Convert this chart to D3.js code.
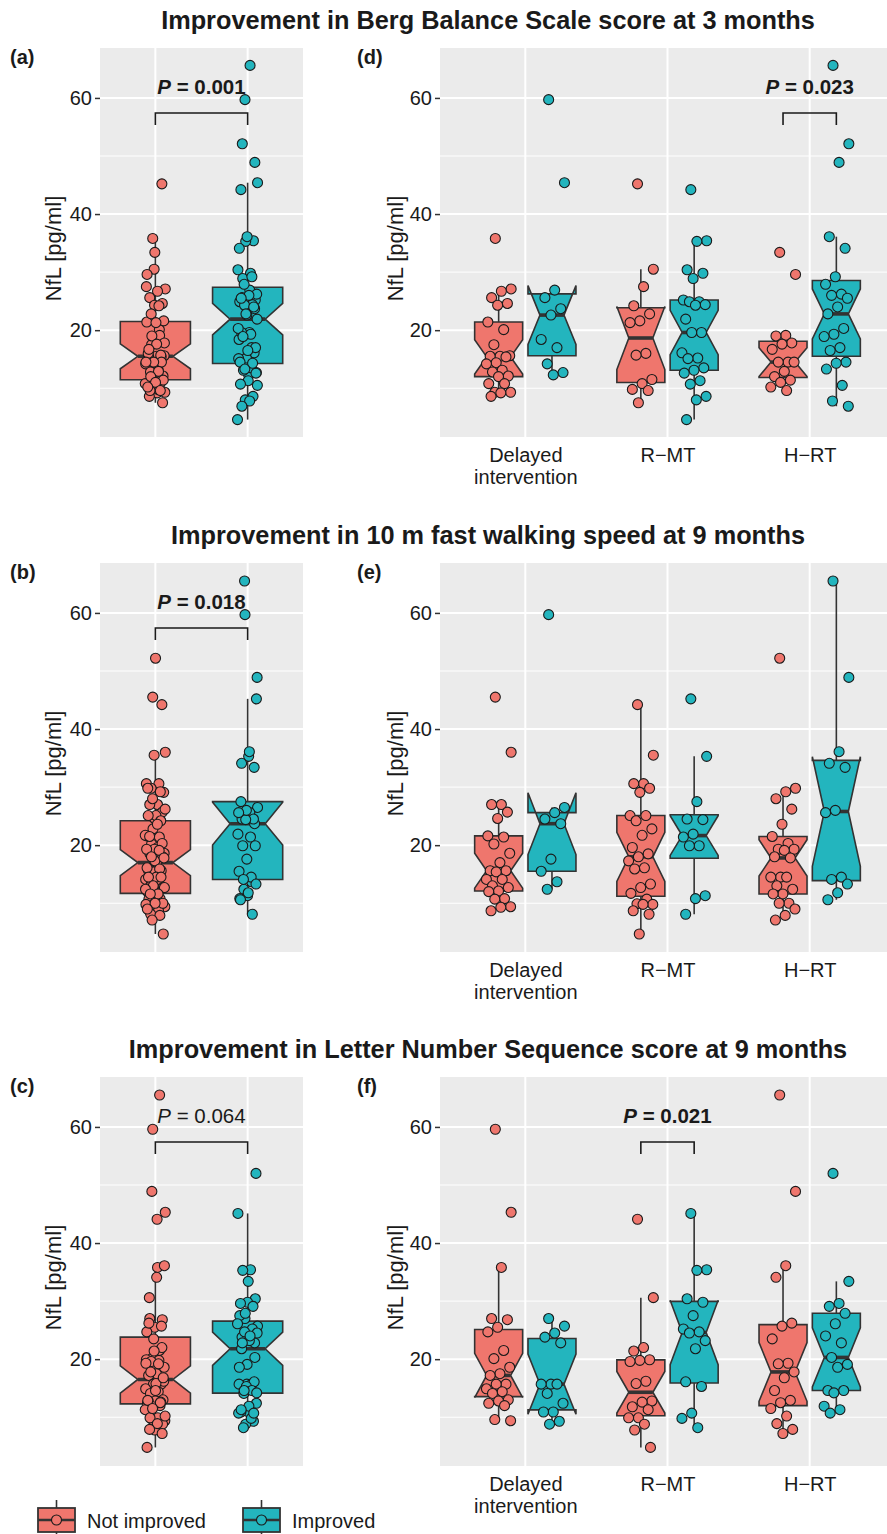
<!DOCTYPE html>
<html>
<head>
<meta charset="utf-8">
<script src="https://cdn.jsdelivr.net/npm/d3@7"></script>
<style>
  body { margin: 0; background: #fff; }
  svg { display: block; font-family: "Liberation Sans", Arial, Helvetica, sans-serif; }
</style>
</head>
<body>
<div id="chart"></div>
<script>
// ---- data --------------------------------------------------------------
const groups = ["Not improved", "Improved"];
const interventions = ["Delayed intervention", "R−MT", "H−RT"];
const interventionLines = [["Delayed", "intervention"], ["R−MT"], ["H−RT"]];

const titles = [
  "Improvement in Berg Balance Scale score at 3 months",
  "Improvement in 10 m fast walking speed at 9 months",
  "Improvement in Letter Number Sequence score at 9 months"
];
const leftLabels = ["(a)", "(b)", "(c)"];
const rightLabels = ["(d)", "(e)", "(f)"];
const leftP = ["0.001", "0.018", "0.064"];
const leftPBold = [true, true, false];
const rightP = [{at: "H−RT", p: "0.023"}, null, {at: "R−MT", p: "0.021"}];

// NfL [pg/ml] per arm: [Delayed intervention, R-MT, H-RT]
const bergNot = [
  [35.8, 27.1, 26.7, 25.6, 24.6, 24.3, 21.4, 20.1, 17.5, 15.6, 15.5, 15.5, 15.4, 14.4, 14.2, 13.1, 12.8, 12.1, 12.0, 10.8, 10.8, 9.3, 9.3, 9.2, 8.6],
  [45.2, 30.5, 27.5, 24.2, 22.8, 21.6, 21.3, 16.0, 15.7, 11.5, 10.8, 9.8, 9.6, 7.5],
  [33.4, 29.6, 19.1, 19.0, 17.8, 17.6, 16.7, 14.5, 14.5, 14.5, 12.9, 12.0, 11.4, 11.0, 10.2, 9.6]
];
const bergImp = [
  [59.7, 45.4, 26.9, 25.6, 23.7, 22.6, 18.4, 17.0, 14.2, 12.7, 12.3],
  [44.2, 35.4, 35.3, 30.4, 29.8, 28.9, 25.2, 24.9, 24.9, 24.4, 24.3, 21.9, 19.6, 19.6, 16.1, 15.2, 15.1, 13.5, 13.1, 12.6, 11.3, 10.7, 8.6, 8.0, 4.6],
  [65.6, 52.1, 48.9, 36.1, 34.1, 29.2, 27.9, 26.2, 26.0, 25.5, 24.0, 22.8, 20.3, 19.3, 18.9, 17.0, 16.5, 14.5, 14.3, 13.3, 10.5, 7.8, 6.9]
];
const walkNot = [
  [45.5, 36.0, 27.0, 27.0, 25.7, 24.6, 21.6, 21.4, 20.2, 18.6, 17.0, 15.6, 15.6, 15.4, 14.1, 14.1, 13.0, 12.7, 12.1, 12.0, 10.8, 10.7, 9.4, 9.3, 8.7],
  [44.2, 35.5, 30.6, 30.6, 29.8, 29.1, 25.1, 25.1, 24.2, 22.8, 21.7, 19.6, 18.5, 18.0, 17.3, 16.1, 15.9, 13.3, 12.7, 11.7, 10.7, 9.9, 9.8, 9.8, 8.7, 8.1, 4.7],
  [52.2, 29.8, 29.2, 28.0, 26.2, 23.6, 21.5, 20.3, 19.3, 19.3, 19.1, 18.0, 17.8, 14.5, 14.5, 14.5, 13.0, 12.4, 11.6, 11.6, 10.0, 10.0, 9.0, 7.9, 7.1]
];
const walkImp = [
  [59.7, 26.5, 25.6, 24.5, 23.7, 17.6, 15.5, 13.7, 12.4],
  [45.2, 35.3, 27.5, 24.5, 24.4, 21.9, 21.4, 19.9, 19.9, 11.3, 10.8, 8.1],
  [65.5, 48.9, 36.1, 34.1, 33.4, 26.0, 25.6, 14.5, 14.1, 13.3, 11.8, 10.6]
];
const lnsNot = [
  [59.6, 45.3, 35.8, 27.0, 26.8, 25.5, 24.7, 21.5, 20.1, 18.6, 17.5, 17.2, 15.7, 15.7, 14.9, 14.4, 14.1, 13.0, 12.8, 12.4, 12.0, 9.6, 9.4],
  [44.1, 30.6, 22.0, 21.4, 19.9, 19.8, 19.6, 16.2, 15.8, 12.8, 12.6, 11.8, 11.3, 9.9, 9.9, 8.8, 7.8, 4.8],
  [65.5, 48.9, 36.1, 34.1, 26.2, 25.7, 23.5, 19.3, 19.2, 17.8, 16.8, 14.6, 12.9, 12.5, 11.5, 10.2, 8.9, 7.9, 7.2]
];
const lnsImp = [
  [27.0, 25.7, 24.5, 23.8, 22.8, 15.7, 15.7, 15.7, 14.1, 12.4, 10.9, 10.9, 9.3, 8.8],
  [45.1, 35.4, 35.3, 30.4, 29.8, 27.5, 25.2, 24.7, 24.5, 23.2, 21.8, 16.1, 15.3, 10.7, 9.8, 8.2],
  [52.0, 33.4, 29.6, 29.1, 27.9, 26.1, 24.0, 22.8, 20.3, 19.1, 18.6, 14.6, 14.6, 14.2, 11.9, 11.3, 10.7]
];

const yTicks = [20, 40, 60];
const yMinor = [10, 30, 50];

// ---- layout -------------------------------------------------------------
const width = 887, height = 1534;
const rowOffset = [0, 515, 1029];
const panelTop = 48, panelBottom = 437;
const leftPanel = [100, 303], rightPanel = [440, 895];
const colors = {"Not improved": "#EF766D", "Improved": "#23B5BE"};
const ink = "#333333";
const bracket = {bar: 57.4, tick: 55.35, text: 60.7};

const rows = [
  {not: bergNot, imp: bergImp},
  {not: walkNot, imp: walkImp},
  {not: lnsNot, imp: lnsImp}
];

// tiny helper like d3-jetpack's .at()
d3.selection.prototype.at = function(o) {
  Object.entries(o).forEach(([k, v]) => this.attr(k, v));
  return this;
};

const svg = d3.select("#chart").append("svg")
  .attr("width", width).attr("height", height);

// ggplot style boxplot stats
function boxStats(vals) {
  const s = vals.slice().sort(d3.ascending);
  const q1 = d3.quantile(s, 0.25), med = d3.quantile(s, 0.5), q3 = d3.quantile(s, 0.75);
  const iqr = q3 - q1;
  const lo = d3.min(s.filter(v => v >= q1 - 1.5 * iqr));
  const hi = d3.max(s.filter(v => v <= q3 + 1.5 * iqr));
  const n = 1.58 * iqr / Math.sqrt(s.length);
  return {q1, med, q3, lo, hi, nlo: med - n, nhi: med + n};
}

// spread points sideways without randomness
function spread(i) {
  return ((i * 0.618034 + 0.37) % 1) * 2 - 1;
}

function drawBox(g, vals, cx, bw, y, fill) {
  const b = boxStats(vals);
  const x0 = cx - bw / 2, x1 = cx + bw / 2, ind = bw / 4;
  g.append("line").at({x1: cx, x2: cx, y1: y(b.q3), y2: y(b.hi)});
  g.append("line").at({x1: cx, x2: cx, y1: y(b.q1), y2: y(b.lo)});
  const pts = [
    [x0, b.q3], [x0, b.nhi], [x0 + ind, b.med], [x0, b.nlo], [x0, b.q1],
    [x1, b.q1], [x1, b.nlo], [x1 - ind, b.med], [x1, b.nhi], [x1, b.q3]
  ].map(p => [p[0], y(p[1])]);
  g.append("polygon")
    .attr("points", pts.map(p => p.join(",")).join(" "))
    .attr("fill", fill).attr("stroke", ink).attr("stroke-width", 1.6)
    .attr("stroke-linejoin", "miter");
  g.append("line")
    .at({x1: x0 + ind, x2: x1 - ind, y1: y(b.med), y2: y(b.med)})
    .attr("stroke-width", 3.6);
}

function drawPoints(g, vals, cx, jw, y, fill) {
  g.selectAll(null).data(vals).join("circle")
    .attr("cx", (d, i) => cx + spread(i) * jw)
    .attr("cy", d => y(d))
    .attr("r", 5)
    .attr("fill", fill)
    .attr("stroke", "#1a1a1a")
    .attr("stroke-width", 1.1);
}

function panelFrame(g, x, y, xr) {
  g.append("rect").at({x: xr[0], y: y.range()[1], width: xr[1] - xr[0],
    height: y.range()[0] - y.range()[1], fill: "#EBEBEB"});
  yMinor.forEach(v => g.append("line")
    .at({x1: xr[0], x2: xr[1], y1: y(v), y2: y(v), stroke: "#fff", "stroke-width": 1}));
  yTicks.forEach(v => g.append("line")
    .at({x1: xr[0], x2: xr[1], y1: y(v), y2: y(v), stroke: "#fff", "stroke-width": 2}));
  x.domain().forEach(c => g.append("line")
    .at({x1: x(c), x2: x(c), y1: y.range()[0], y2: y.range()[1], stroke: "#fff", "stroke-width": 2}));

  const ax = g.append("g")
    .attr("transform", `translate(${xr[0]},0)`)
    .call(d3.axisLeft(y).tickValues(yTicks).tickSize(5).tickPadding(3));
  ax.select(".domain").remove();
  ax.selectAll(".tick line").attr("stroke", ink).attr("stroke-width", 1.5);
  ax.selectAll(".tick text").attr("fill", "#1a1a1a")
    .style("font-size", "20px").style("font-family", "inherit");

  const mid = (y.range()[0] + y.range()[1]) / 2 + 6;
  const tx = xr[0] === leftPanel[0] ? 53 : 395;
  g.append("text")
    .attr("transform", `translate(${tx},${mid}) rotate(-90)`)
    .attr("text-anchor", "middle").attr("dominant-baseline", "central")
    .style("font-size", "22px").attr("fill", "#1a1a1a")
    .text("NfL [pg/ml]");
}

function drawBracket(g, xa, xb, y, p, bold) {
  g.append("path")
    .attr("d", `M${xa},${y(bracket.tick)}V${y(bracket.bar)}H${xb}V${y(bracket.tick)}`)
    .attr("fill", "none").attr("stroke", "#1a1a1a").attr("stroke-width", 1.6);
  const t = g.append("text")
    .attr("x", (xa + xb) / 2).attr("y", y(bracket.text))
    .attr("text-anchor", "middle")
    .style("font-size", "20.5px")
    .style("font-weight", bold ? "bold" : "normal")
    .attr("fill", "#1a1a1a");
  t.append("tspan").style("font-style", "italic").text("P");
  t.append("tspan").text(" = " + p);
}

rows.forEach((r, ri) => {
  const off = rowOffset[ri];
  const g = svg.append("g");
  const y = d3.scaleLinear().domain([1.6, 68.6]).range([panelBottom + off, panelTop + off]);

  g.append("text")
    .at({x: 488, y: 29 + off, "text-anchor": "middle", fill: "#1a1a1a"})
    .style("font-size", "25.3px").style("font-weight", "bold")
    .text(titles[ri]);
  g.append("text").at({x: 10, y: 64 + off, fill: "#1a1a1a"})
    .style("font-size", "20px").style("font-weight", "bold").text(leftLabels[ri]);
  g.append("text").at({x: 357, y: 64 + off, fill: "#1a1a1a"})
    .style("font-size", "20px").style("font-weight", "bold").text(rightLabels[ri]);

  // left panel: all arms pooled
  const xl = d3.scalePoint().domain(groups).range(leftPanel).padding(0.6);
  const gl = g.append("g");
  panelFrame(gl, xl, y, leftPanel);
  const boxesL = gl.append("g").attr("stroke", ink).attr("stroke-width", 1.6);
  const pooled = [r.not.flat(), r.imp.flat()];
  groups.forEach((grp, gi) => drawBox(boxesL, pooled[gi], xl(grp), 0.76 * xl.step(), y, colors[grp]));
  groups.forEach((grp, gi) => drawPoints(gl, pooled[gi], xl(grp), 0.11 * xl.step(), y, colors[grp]));
  drawBracket(gl, xl(groups[0]), xl(groups[1]), y, leftP[ri], leftPBold[ri]);

  // right panel: by arm
  const xr = d3.scalePoint().domain(interventions).range(rightPanel).padding(0.6);
  const gr = g.append("g");
  panelFrame(gr, xr, y, rightPanel);
  const dodge = 0.1875 * xr.step(), bw = 0.3375 * xr.step();
  const boxesR = gr.append("g").attr("stroke", ink).attr("stroke-width", 1.6);
  interventions.forEach((arm, ai) => {
    drawBox(boxesR, r.not[ai], xr(arm) - dodge, bw, y, colors[groups[0]]);
    drawBox(boxesR, r.imp[ai], xr(arm) + dodge, bw, y, colors[groups[1]]);
  });
  interventions.forEach((arm, ai) => {
    drawPoints(gr, r.not[ai], xr(arm) - dodge, 0.09 * xr.step(), y, colors[groups[0]]);
    drawPoints(gr, r.imp[ai], xr(arm) + dodge, 0.09 * xr.step(), y, colors[groups[1]]);
  });
  if (rightP[ri]) {
    const c = xr(rightP[ri].at);
    drawBracket(gr, c - dodge, c + dodge, y, rightP[ri].p, true);
  }

  const xa = gr.append("g")
    .attr("transform", `translate(0,${panelBottom + off})`)
    .call(d3.axisBottom(xr).tickSize(0).tickPadding(0));
  xa.select(".domain").remove();
  xa.selectAll(".tick text").each(function(d, i) {
    const t = d3.select(this).text(null)
      .attr("y", 25).attr("dy", null).attr("fill", "#1a1a1a")
      .style("font-size", "20px").style("font-family", "inherit");
    interventionLines[i].forEach((ln, li) =>
      t.append("tspan").attr("x", 0).attr("dy", li === 0 ? 0 : 22).text(ln));
  });
});

// legend
const lg = svg.append("g");
groups.forEach((grp, gi) => {
  const x0 = [38, 243][gi], yc = 1520;
  const k = lg.append("g").attr("stroke", ink);
  k.append("line").at({x1: x0 + 18.5, x2: x0 + 18.5, y1: 1500, y2: 1534, "stroke-width": 1.6});
  k.append("rect").at({x: x0, y: yc - 12, width: 37, height: 24, fill: colors[grp], "stroke-width": 1.8});
  k.append("line").at({x1: x0, x2: x0 + 37, y1: yc, y2: yc, "stroke-width": 2.4});
  k.append("circle").at({cx: x0 + 18.5, cy: yc, r: 5, fill: colors[grp], stroke: "#1a1a1a", "stroke-width": 1.1});
  lg.append("text").at({x: x0 + 49, y: 1528, fill: "#1a1a1a"})
    .style("font-size", "20px").text(grp);
});
</script>
</body>
</html>
